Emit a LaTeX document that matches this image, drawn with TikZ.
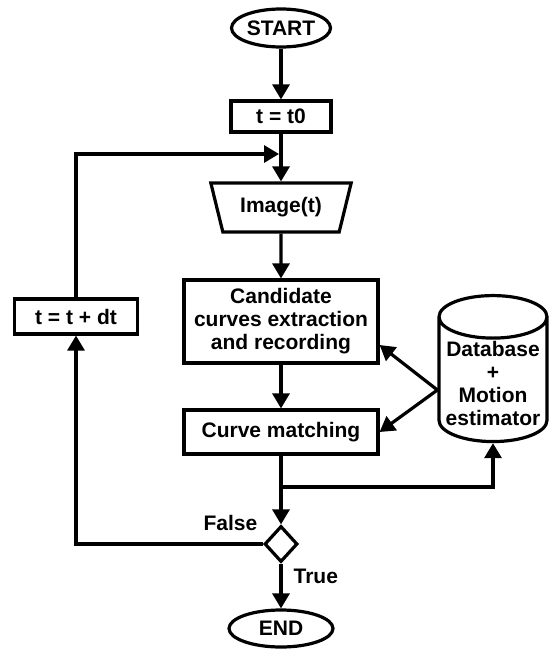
\documentclass[tikz,border=0pt]{standalone}
\usepackage{fontspec}
\setmainfont{Liberation Sans}
\usetikzlibrary{shapes.geometric, arrows.meta}

\begin{document}
\begin{tikzpicture}[
    x=1pt, y=-1pt,
    % Styles for the flowchart blocks and links
    every node/.style={font=\fontsize{21}{23}\selectfont\bfseries, inner sep=0pt, line width=3.2pt},
    terminal/.style={draw, ellipse},
    process/.style={draw, rectangle, align=center},
    io/.style={draw, trapezium, trapezium stretches=true, shape border rotate=180,
        trapezium left angle=66.8, trapezium right angle=66.8},
    decision/.style={draw, diamond, minimum width=33pt, minimum height=36pt},
    store/.style={draw, cylinder, shape border rotate=90, aspect=0.45, align=center, inner ysep=-12pt},
    flow/.style={line width=3.2pt, -{Triangle[length=15pt, width=17pt]}}
]

    \useasboundingbox (0,0) rectangle (550,651);

    % Main column

    %% Blocks from top to bottom
    \node[terminal, minimum width=99pt, minimum height=38pt] (Start) at (281, 28) {START};
    \node[process, minimum width=100pt, minimum height=31pt] (Init) at (281, 116.5) {t = t0};
    \node[io, minimum width=141pt, minimum height=49pt] (Image) at (281, 207.5) {Image(t)};
    \node[process, minimum width=194pt, minimum height=83pt] (Extract) at (281, 321.5)
        {Candidate\\curves extraction\\and recording};
    \node[process, minimum width=194pt, minimum height=44pt] (Match) at (281, 432) {Curve matching};
    \node[decision] (Test) at (281, 544) {};
    \node[terminal, minimum width=104pt, minimum height=37pt] (End) at (281, 628.5) {END};

    %% Decision labels
    \node[anchor=south east] (No) at ([xshift=-4pt, yshift=12pt]Test.west) {False};
    \node[anchor=north west] (Yes) at ([xshift=11pt, yshift=-4pt]Test.south) {True};

    % Side blocks

    \node[process, minimum width=123pt, minimum height=35pt] (Update) at (76, 316.5) {t = t + dt};
    %% the empty first line pushes the text below the top cap
    \node[store, minimum width=108pt, minimum height=146pt] (Base) at (493, 380)
        {\mbox{}\\[0pt]Database\\+\\Motion\\estimator};

    % Link points

    \coordinate (Join) at (279, 154);
    \coordinate (Split) at (281, 487);
    \coordinate (Tap) at ([yshift=-10pt]Base.west);

    % Links

    %% Main column
    \draw[flow] (Start) -- (Init);
    \draw[flow] (Init) -- (Image);
    \draw[flow] (Image) -- (Extract);
    \draw[flow] (Extract) -- (Match);
    \draw[flow] (Match) -- (Test);
    \draw[flow] (Test) -- (End);

    %% Time loop
    \draw[flow] (Test.west) -| (Update.south);
    \draw[flow] (Update.north) |- (Join);

    %% Database exchanges
    \draw[flow] (Split) -| (Base.south);
    \draw[flow] (Tap) -- ([yshift=-23.5pt]Extract.east);
    \draw[flow] (Tap) -- (Match.east);

\end{tikzpicture}
\end{document}
